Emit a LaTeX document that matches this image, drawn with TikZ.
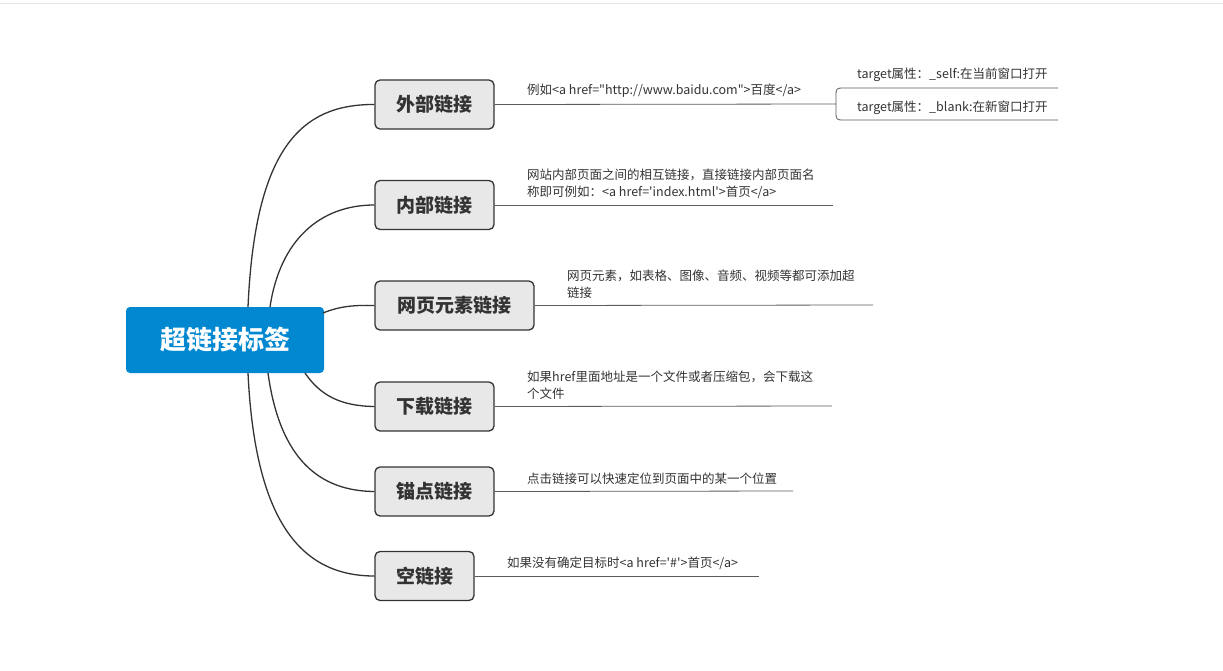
\documentclass[tikz,border=0pt]{standalone}
\usepackage{fontspec}
\newfontfamily\cjk{Noto Sans CJK SC}
\definecolor{rootblue}{HTML}{0288D1}
\definecolor{boxgray}{HTML}{E8E8E8}
\definecolor{edge}{HTML}{333333}
\begin{document}
\begin{tikzpicture}[x=1pt,y=-1pt,
  rootbox/.style={fill=rootblue,rounded corners=4pt,minimum width=198pt,minimum height=66pt,text=white,font=\cjk\bfseries\fontsize{26}{30}\selectfont},
  branch/.style={draw=edge,line width=1.3pt,fill=boxgray,rounded corners=5pt,minimum height=49pt,font=\cjk\bfseries\fontsize{19}{22}\selectfont,text=edge},
  conn/.style={draw=edge,line width=1.3pt},
  leafline/.style={draw=edge!80,line width=0.8pt},
  leaf/.style={anchor=south west,align=left,inner sep=1pt,font=\cjk\fontsize{12.5}{17}\selectfont,text=edge}]
\useasboundingbox (0,0) rectangle (1223,670);
\draw[gray!20] (0,3) -- (1223,3);
\node[rootbox] (root) at (225,340) {超链接标签};
\node[branch,minimum width=119pt] (b1) at (434.5,104.5) {外部链接};
\node[branch,minimum width=119pt] (b2) at (434.5,205) {内部链接};
\node[branch,minimum width=159pt] (b3) at (454.5,305.5) {网页元素链接};
\node[branch,minimum width=119pt] (b4) at (434.5,406.5) {下载链接};
\node[branch,minimum width=119pt] (b5) at (434.5,491.5) {锚点链接};
\node[branch,minimum width=99pt] (b6) at (424.5,576) {空链接};
\coordinate (s1) at (248,307);
\coordinate (s2) at (270,307);
\coordinate (s3) at (323,313);
\coordinate (s4) at (305,373);
\coordinate (s5) at (268,373);
\coordinate (s6) at (248,373);
\draw[conn] (s1) .. controls (255,150) and (300,104) .. (b1.west);
\draw[conn] (s2) .. controls (280,240) and (320,205) .. (b2.west);
\draw[conn] (s3) .. controls (340,306) and (355,305) .. (b3.west);
\draw[conn] (s4) .. controls (320,395) and (340,406) .. (b4.west);
\draw[conn] (s5) .. controls (280,460) and (320,491) .. (b5.west);
\draw[conn] (s6) .. controls (255,520) and (300,576) .. (b6.west);
% leaf lines
\coordinate (e1) at (836,104);
\coordinate (e2) at (833,205);
\coordinate (e3) at (873,305);
\coordinate (e4) at (832,406);
\coordinate (e5) at (793,491);
\coordinate (e6) at (759,576);
\draw[leafline] (b1.east) -- (e1);
\draw[leafline] (b2.east) -- (e2);
\draw[leafline] (b3.east) -- (e3);
\draw[leafline] (b4.east) -- (e4);
\draw[leafline] (b5.east) -- (e5);
\draw[leafline] (b6.east) -- (e6);
\node[leaf] (t1) at (526,99) {例如<a href="http://www.baidu.com">百度</a>};
\node[leaf] (t2) at (526,200) {网站内部页面之间的相互链接，直接链接内部页面名\\称即可例如：<a href='index.html'>首页</a>};
\node[leaf] (t3) at (566,300) {网页元素，如表格、图像、音频、视频等都可添加超\\链接};
\node[leaf] (t4) at (526,401) {如果href里面地址是一个文件或者压缩包，会下载这\\个文件};
\node[leaf] (t5) at (526,486) {点击链接可以快速定位到页面中的某一个位置};
\node[leaf] (t6) at (506,571) {如果没有确定目标时<a href='\#'>首页</a>};
% sub-bracket
\coordinate (u1) at (1058,88);
\coordinate (u2) at (1058,120);
\draw[leafline] (u1) -- (845,88) .. controls (836,88) .. (836,97) -- (836,111) .. controls (836,120) .. (845,120) -- (u2);
\node[leaf] (t7) at (856,83) {target属性：\_self:在当前窗口打开};
\node[leaf] (t8) at (856,116) {target属性：\_blank:在新窗口打开};
\end{tikzpicture}
\end{document}
